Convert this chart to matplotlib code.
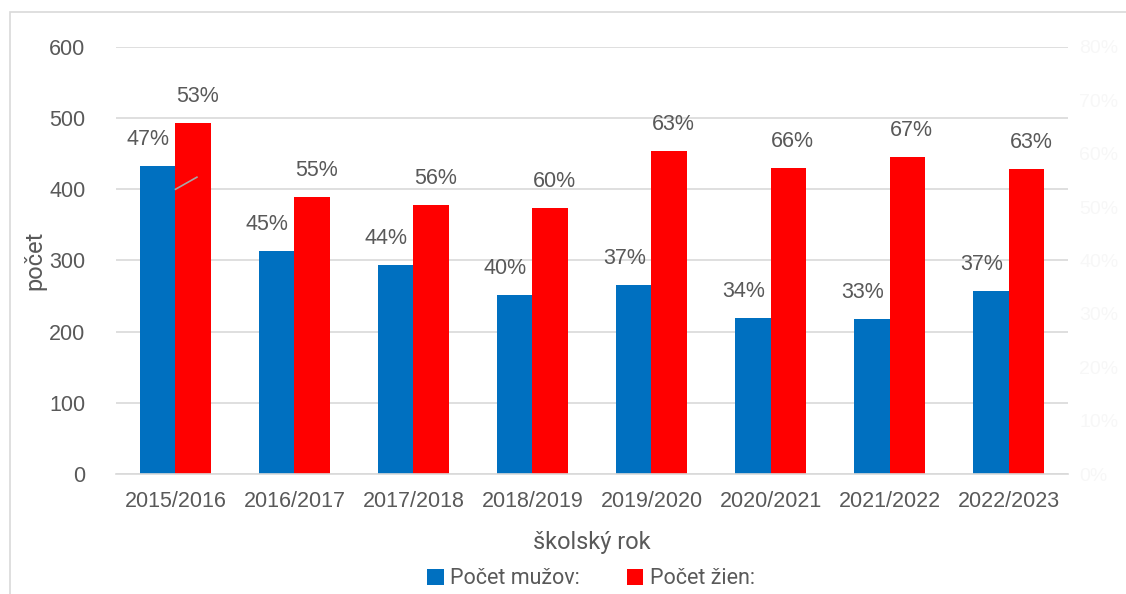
import numpy as np
import matplotlib.pyplot as plt
from matplotlib.patches import Rectangle

years = ["2015/2016", "2016/2017", "2017/2018", "2018/2019",
         "2019/2020", "2020/2021", "2021/2022", "2022/2023"]
men = [433, 313, 294, 251, 266, 219, 218, 257]
women = [493, 389, 378, 374, 454, 430, 445, 429]
men_pct = [47, 45, 44, 40, 37, 34, 33, 37]
women_pct = [53, 55, 56, 60, 63, 66, 67, 63]

BLUE = "#0070C0"
RED = "#FF0000"
TXT = "#595959"
GRID = "#D9D9D9"
NUM_FONT = "Liberation Sans"
TITLE_FONT = "Roboto"

fig = plt.figure(figsize=(11.26, 5.94), dpi=100)
fig.patches.append(Rectangle((10 / 1126, -0.1), 1.2, 1 - 12 / 594 + 0.1,
                             transform=fig.transFigure, fill=False,
                             edgecolor="#D9D9D9", linewidth=1.2))

ax = fig.add_axes([0.103, 0.202, 0.8455, 0.719])
x = np.arange(len(years))
w = 0.295
ax.bar(x - w / 2, men, w, color=BLUE, label="Počet mužov:", zorder=2)
ax.bar(x + w / 2, women, w, color=RED, label="Počet žien:", zorder=2)

ax.set_xlim(-0.5, len(years) - 0.5)
ax.set_ylim(0, 600)
ax.set_yticks(range(0, 601, 100))
ax.grid(axis="y", color=GRID, linewidth=1.2, zorder=0)
for s in ax.spines.values():
    s.set_visible(False)
ax.spines["bottom"].set_visible(True)
ax.spines["bottom"].set_color(GRID)
ax.spines["bottom"].set_linewidth(1.2)
ax.tick_params(length=0, labelsize=15.5, labelcolor=TXT, pad=12)
ax.set_xticks(x)
ax.set_xticklabels(years, fontfamily=NUM_FONT)
for t in ax.get_yticklabels():
    t.set_fontfamily(NUM_FONT)
ax.tick_params(axis="y", pad=22)

ax.set_ylabel("počet", fontsize=17, color=TXT, fontfamily=TITLE_FONT, labelpad=2)
ax.set_xlabel("školský rok", fontsize=17, color=TXT, fontfamily=TITLE_FONT, labelpad=14)

# percentage labels
for i in range(len(years)):
    ax.annotate(f"{men_pct[i]}%", (x[i] - w / 2 - 0.08, men[i]), xytext=(0, 19),
                textcoords="offset points", ha="center", va="center",
                fontsize=15.5, color=TXT, fontfamily=NUM_FONT, zorder=3)
    ax.annotate(f"{women_pct[i]}%", (x[i] + w / 2 + 0.04, women[i]), xytext=(0, 19),
                textcoords="offset points", ha="center", va="center",
                fontsize=15.5, color=TXT, fontfamily=NUM_FONT, zorder=3)
# leader line for first label
ax.plot([x[0], x[0] + 0.18], [400, 417], color="#A6A6A6", linewidth=1.2, zorder=3)

# faint secondary axis
ax2 = ax.twinx()
ax2.set_ylim(0, 0.8)
ax2.set_yticks(np.arange(0, 0.81, 0.1))
ax2.set_yticklabels([f"{int(round(v * 100))}%" for v in np.arange(0, 0.81, 0.1)],
                    fontfamily=NUM_FONT)
ax2.tick_params(length=0, labelsize=14, labelcolor="#F7F7F7", pad=8)
for s in ax2.spines.values():
    s.set_visible(False)

leg = fig.legend(loc="lower center", bbox_to_anchor=(0.525, -0.025), ncol=2, frameon=False,
                 handlelength=0.75, handleheight=0.75, handletextpad=0.3, columnspacing=2.2,
                 prop={"family": TITLE_FONT, "size": 15.5})
for t in leg.get_texts():
    t.set_color(TXT)

fig.savefig("out.png", dpi=100)
